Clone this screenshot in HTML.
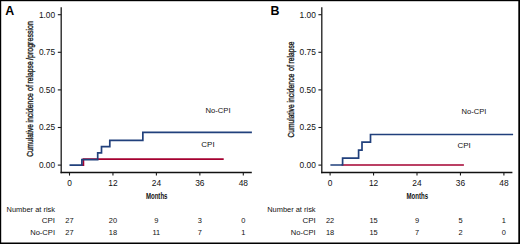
<!DOCTYPE html>
<html><head><meta charset="utf-8"><style>
html,body{margin:0;padding:0;background:#fff;}
svg{display:block;}
text{font-family:"Liberation Sans", sans-serif;}
</style></head><body>
<svg width="520" height="244" viewBox="0 0 520 244">
<rect x="0" y="0" width="520" height="244" fill="#fff"/>
<rect x="0" y="0" width="520" height="1.2" fill="#000"/>
<rect x="0" y="0" width="1.2" height="244" fill="#000"/>
<rect x="518.3" y="0" width="1.7" height="244" fill="#000"/>
<rect x="0" y="242.5" width="520" height="1.5" fill="#000"/>
<text x="5.20" y="14.90" font-size="12.4" font-weight="bold" fill="#000">A</text>
<path d="M61.20 7.3V173.15" fill="none" stroke="#1a1a1a" stroke-width="1.3"/>
<path d="M60.55 172.5H251.80" fill="none" stroke="#111" stroke-width="1.3"/>
<path d="M57.80 14.7H61.2" stroke="#1a1a1a" stroke-width="1.1"/>
<text x="55.20" y="18.10" font-size="8.4" text-anchor="end" fill="#111">1.00</text>
<path d="M57.80 52.3H61.2" stroke="#1a1a1a" stroke-width="1.1"/>
<text x="55.20" y="55.00" font-size="8.4" text-anchor="end" fill="#111">0.75</text>
<path d="M57.80 89.9H61.2" stroke="#1a1a1a" stroke-width="1.1"/>
<text x="55.20" y="92.60" font-size="8.4" text-anchor="end" fill="#111">0.50</text>
<path d="M57.80 127.5H61.2" stroke="#1a1a1a" stroke-width="1.1"/>
<text x="55.20" y="130.20" font-size="8.4" text-anchor="end" fill="#111">0.25</text>
<path d="M57.80 165.1H61.2" stroke="#1a1a1a" stroke-width="1.1"/>
<text x="55.20" y="167.80" font-size="8.4" text-anchor="end" fill="#111">0.00</text>
<path d="M69.50 172.5V175.6" stroke="#1a1a1a" stroke-width="1.1"/>
<text x="69.50" y="186.00" font-size="8.4" text-anchor="middle" fill="#111">0</text>
<path d="M112.95 172.5V175.6" stroke="#1a1a1a" stroke-width="1.1"/>
<text x="112.95" y="186.00" font-size="8.4" text-anchor="middle" fill="#111">12</text>
<path d="M156.40 172.5V175.6" stroke="#1a1a1a" stroke-width="1.1"/>
<text x="156.40" y="186.00" font-size="8.4" text-anchor="middle" fill="#111">24</text>
<path d="M199.85 172.5V175.6" stroke="#1a1a1a" stroke-width="1.1"/>
<text x="199.85" y="186.00" font-size="8.4" text-anchor="middle" fill="#111">36</text>
<path d="M243.30 172.5V175.6" stroke="#1a1a1a" stroke-width="1.1"/>
<text x="243.30" y="186.00" font-size="8.4" text-anchor="middle" fill="#111">48</text>
<text x="156.70" y="199.20" font-size="9.3" font-weight="bold" text-anchor="middle" textLength="21.60" lengthAdjust="spacingAndGlyphs" fill="#111">Months</text>
<text transform="translate(33.20,156.73) rotate(-90)" font-size="9.4" textLength="32.70" lengthAdjust="spacingAndGlyphs" fill="#111" stroke="#222" stroke-width="0.35">Cumulative</text>
<text transform="translate(33.20,122.58) rotate(-90)" font-size="9.4" textLength="29.35" lengthAdjust="spacingAndGlyphs" fill="#111" stroke="#222" stroke-width="0.35">incidence</text>
<text transform="translate(33.20,90.91) rotate(-90)" font-size="9.4" textLength="6.00" lengthAdjust="spacingAndGlyphs" fill="#111" stroke="#222" stroke-width="0.35">of</text>
<text transform="translate(33.20,83.38) rotate(-90)" font-size="9.4" textLength="22.00" lengthAdjust="spacingAndGlyphs" fill="#111" stroke="#222" stroke-width="0.35">relapse</text>
<text transform="translate(33.20,59.95) rotate(-90)" font-size="9.4" textLength="38.81" lengthAdjust="spacingAndGlyphs" fill="#111" stroke="#222" stroke-width="0.35">/progression</text>
<path d="M81.5 165.1H83.4V159.0H223.7" fill="none" stroke="#a50030" stroke-width="1.75"/>
<path d="M69.5 165.1H81.9V159.6H97.7V152.8H101.5V146.7H109.8V140.3H142.85V132.3H251.9" fill="none" stroke="#21407c" stroke-width="1.7"/>
<text x="205.50" y="112.80" font-size="7.8" textLength="25.00" lengthAdjust="spacingAndGlyphs" fill="#111">No-CPI</text>
<text x="201.30" y="147.00" font-size="7.8" textLength="13.30" lengthAdjust="spacingAndGlyphs" fill="#111">CPI</text>
<text x="6.60" y="211.75" font-size="8.0" textLength="48.40" lengthAdjust="spacingAndGlyphs" fill="#111">Number at risk</text>
<text x="41.80" y="223.45" font-size="8.0" textLength="13.30" lengthAdjust="spacingAndGlyphs" fill="#111">CPI</text>
<text x="30.20" y="235.15" font-size="8.0" textLength="24.80" lengthAdjust="spacingAndGlyphs" fill="#111">No-CPI</text>
<g transform="translate(69.50,223.35) scale(0.92,1)"><text x="0.00" y="0.00" font-size="8.1" text-anchor="middle" fill="#111">27</text></g>
<g transform="translate(69.50,235.05) scale(0.92,1)"><text x="0.00" y="0.00" font-size="8.1" text-anchor="middle" fill="#111">27</text></g>
<g transform="translate(112.95,223.35) scale(0.92,1)"><text x="0.00" y="0.00" font-size="8.1" text-anchor="middle" fill="#111">20</text></g>
<g transform="translate(112.95,235.05) scale(0.92,1)"><text x="0.00" y="0.00" font-size="8.1" text-anchor="middle" fill="#111">18</text></g>
<g transform="translate(156.40,223.35) scale(0.92,1)"><text x="0.00" y="0.00" font-size="8.1" text-anchor="middle" fill="#111">9</text></g>
<g transform="translate(156.40,235.05) scale(0.92,1)"><text x="0.00" y="0.00" font-size="8.1" text-anchor="middle" fill="#111">11</text></g>
<g transform="translate(199.85,223.35) scale(0.92,1)"><text x="0.00" y="0.00" font-size="8.1" text-anchor="middle" fill="#111">3</text></g>
<g transform="translate(199.85,235.05) scale(0.92,1)"><text x="0.00" y="0.00" font-size="8.1" text-anchor="middle" fill="#111">7</text></g>
<g transform="translate(243.30,223.35) scale(0.92,1)"><text x="0.00" y="0.00" font-size="8.1" text-anchor="middle" fill="#111">0</text></g>
<g transform="translate(243.30,235.05) scale(0.92,1)"><text x="0.00" y="0.00" font-size="8.1" text-anchor="middle" fill="#111">1</text></g>
<text x="270.60" y="14.90" font-size="12.4" font-weight="bold" fill="#000">B</text>
<path d="M321.80 7.3V173.15" fill="none" stroke="#1a1a1a" stroke-width="1.3"/>
<path d="M321.15 172.5H512.40" fill="none" stroke="#111" stroke-width="1.3"/>
<path d="M318.40 14.7H321.8" stroke="#1a1a1a" stroke-width="1.1"/>
<text x="315.80" y="18.10" font-size="8.4" text-anchor="end" fill="#111">1.00</text>
<path d="M318.40 52.3H321.8" stroke="#1a1a1a" stroke-width="1.1"/>
<text x="315.80" y="55.00" font-size="8.4" text-anchor="end" fill="#111">0.75</text>
<path d="M318.40 89.9H321.8" stroke="#1a1a1a" stroke-width="1.1"/>
<text x="315.80" y="92.60" font-size="8.4" text-anchor="end" fill="#111">0.50</text>
<path d="M318.40 127.5H321.8" stroke="#1a1a1a" stroke-width="1.1"/>
<text x="315.80" y="130.20" font-size="8.4" text-anchor="end" fill="#111">0.25</text>
<path d="M318.40 165.1H321.8" stroke="#1a1a1a" stroke-width="1.1"/>
<text x="315.80" y="167.80" font-size="8.4" text-anchor="end" fill="#111">0.00</text>
<path d="M330.10 172.5V175.6" stroke="#1a1a1a" stroke-width="1.1"/>
<text x="330.10" y="186.00" font-size="8.4" text-anchor="middle" fill="#111">0</text>
<path d="M373.55 172.5V175.6" stroke="#1a1a1a" stroke-width="1.1"/>
<text x="373.55" y="186.00" font-size="8.4" text-anchor="middle" fill="#111">12</text>
<path d="M417.00 172.5V175.6" stroke="#1a1a1a" stroke-width="1.1"/>
<text x="417.00" y="186.00" font-size="8.4" text-anchor="middle" fill="#111">24</text>
<path d="M460.45 172.5V175.6" stroke="#1a1a1a" stroke-width="1.1"/>
<text x="460.45" y="186.00" font-size="8.4" text-anchor="middle" fill="#111">36</text>
<path d="M503.90 172.5V175.6" stroke="#1a1a1a" stroke-width="1.1"/>
<text x="503.90" y="186.00" font-size="8.4" text-anchor="middle" fill="#111">48</text>
<text x="417.30" y="199.20" font-size="9.3" font-weight="bold" text-anchor="middle" textLength="21.60" lengthAdjust="spacingAndGlyphs" fill="#111">Months</text>
<text transform="translate(293.80,137.43) rotate(-90)" font-size="9.4" textLength="33.00" lengthAdjust="spacingAndGlyphs" fill="#111" stroke="#222" stroke-width="0.35">Cumulative</text>
<text transform="translate(293.80,102.58) rotate(-90)" font-size="9.4" textLength="28.95" lengthAdjust="spacingAndGlyphs" fill="#111" stroke="#222" stroke-width="0.35">incidence</text>
<text transform="translate(293.80,71.11) rotate(-90)" font-size="9.4" textLength="6.00" lengthAdjust="spacingAndGlyphs" fill="#111" stroke="#222" stroke-width="0.35">of</text>
<text transform="translate(293.80,63.48) rotate(-90)" font-size="9.4" textLength="22.00" lengthAdjust="spacingAndGlyphs" fill="#111" stroke="#222" stroke-width="0.35">relapse</text>
<path d="M341.5 165H463.9" fill="none" stroke="#a50030" stroke-width="1.5"/>
<path d="M330.4 165H342.6V158.2H358.6V150.1H362V142.2H370.5V134.5H513.1" fill="none" stroke="#21407c" stroke-width="1.7"/>
<text x="461.60" y="113.50" font-size="7.8" textLength="24.80" lengthAdjust="spacingAndGlyphs" fill="#111">No-CPI</text>
<text x="457.50" y="147.80" font-size="7.8" textLength="13.30" lengthAdjust="spacingAndGlyphs" fill="#111">CPI</text>
<text x="267.20" y="211.75" font-size="8.0" textLength="48.40" lengthAdjust="spacingAndGlyphs" fill="#111">Number at risk</text>
<text x="302.40" y="223.45" font-size="8.0" textLength="13.30" lengthAdjust="spacingAndGlyphs" fill="#111">CPI</text>
<text x="290.80" y="235.15" font-size="8.0" textLength="24.80" lengthAdjust="spacingAndGlyphs" fill="#111">No-CPI</text>
<g transform="translate(330.10,223.35) scale(0.92,1)"><text x="0.00" y="0.00" font-size="8.1" text-anchor="middle" fill="#111">22</text></g>
<g transform="translate(330.10,235.05) scale(0.92,1)"><text x="0.00" y="0.00" font-size="8.1" text-anchor="middle" fill="#111">18</text></g>
<g transform="translate(373.55,223.35) scale(0.92,1)"><text x="0.00" y="0.00" font-size="8.1" text-anchor="middle" fill="#111">15</text></g>
<g transform="translate(373.55,235.05) scale(0.92,1)"><text x="0.00" y="0.00" font-size="8.1" text-anchor="middle" fill="#111">15</text></g>
<g transform="translate(417.00,223.35) scale(0.92,1)"><text x="0.00" y="0.00" font-size="8.1" text-anchor="middle" fill="#111">9</text></g>
<g transform="translate(417.00,235.05) scale(0.92,1)"><text x="0.00" y="0.00" font-size="8.1" text-anchor="middle" fill="#111">7</text></g>
<g transform="translate(460.45,223.35) scale(0.92,1)"><text x="0.00" y="0.00" font-size="8.1" text-anchor="middle" fill="#111">5</text></g>
<g transform="translate(460.45,235.05) scale(0.92,1)"><text x="0.00" y="0.00" font-size="8.1" text-anchor="middle" fill="#111">2</text></g>
<g transform="translate(503.90,223.35) scale(0.92,1)"><text x="0.00" y="0.00" font-size="8.1" text-anchor="middle" fill="#111">1</text></g>
<g transform="translate(503.90,235.05) scale(0.92,1)"><text x="0.00" y="0.00" font-size="8.1" text-anchor="middle" fill="#111">0</text></g>
</svg>
</body></html>
